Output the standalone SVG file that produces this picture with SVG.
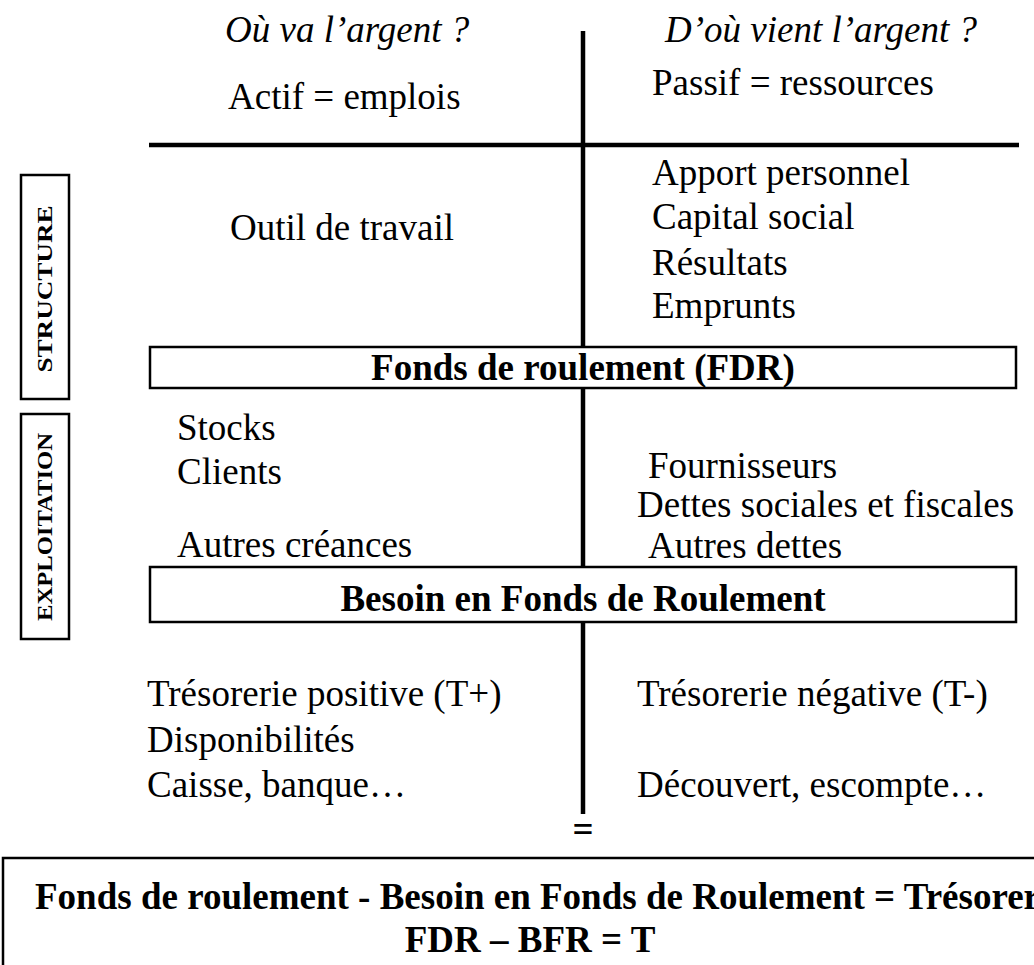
<svg xmlns="http://www.w3.org/2000/svg" width="1034" height="965" viewBox="0 0 1034 965">
<style>
.t{font-family:"Liberation Serif","Times New Roman",serif;font-size:37px;fill:#000}
.i{font-style:italic}
.b{font-weight:bold}
.c{text-anchor:middle}
.side{font-family:"Liberation Serif","Times New Roman",serif;font-size:20px;font-weight:bold;text-anchor:middle;fill:#000}
.box{fill:#fff;stroke:#000;stroke-width:2.5}
.ln{stroke:#000;stroke-width:4.5;fill:none}
</style>
<rect width="1034" height="965" fill="#fff"/>
<g id="connectors">
<line class="ln" x1="583" y1="31" x2="583" y2="347"/>
<line class="ln" x1="583" y1="388" x2="583" y2="567"/>
<line class="ln" x1="583" y1="622" x2="583" y2="814"/>
<line class="ln" x1="149" y1="145" x2="1019" y2="145"/>
</g>
<g id="header-actif">
<text class="t i" x="225" y="42">Où va l’argent ?</text>
<text class="t" x="228" y="109">Actif = emplois</text>
</g>
<g id="header-passif">
<text class="t i" x="665" y="42">D’où vient l’argent ?</text>
<text class="t" x="652" y="95">Passif = ressources</text>
</g>
<g id="structure-label">
<rect class="box" x="21" y="175" width="48" height="224"/>
<text class="side" transform="translate(52,289) rotate(-90)" textLength="167" lengthAdjust="spacingAndGlyphs">STRUCTURE</text>
</g>
<g id="exploitation-label">
<rect class="box" x="21" y="414" width="48" height="225"/>
<text class="side" transform="translate(52,527) rotate(-90)" textLength="188" lengthAdjust="spacingAndGlyphs">EXPLOITATION</text>
</g>
<g id="emplois-structure">
<text class="t" x="230" y="240">Outil de travail</text>
</g>
<g id="ressources-structure">
<text class="t" x="652" y="185">Apport personnel</text>
<text class="t" x="652" y="229">Capital social</text>
<text class="t" x="652" y="275">Résultats</text>
<text class="t" x="652" y="318">Emprunts</text>
</g>
<g id="fdr">
<rect class="box" x="150" y="347" width="866" height="41"/>
<text class="t b c" x="583" y="380">Fonds de roulement (FDR)</text>
</g>
<g id="emplois-exploitation">
<text class="t" x="177" y="440">Stocks</text>
<text class="t" x="177" y="484">Clients</text>
<text class="t" x="177" y="557">Autres créances</text>
</g>
<g id="ressources-exploitation">
<text class="t" x="648" y="478">Fournisseurs</text>
<text class="t" x="637" y="517">Dettes sociales et fiscales</text>
<text class="t" x="648" y="558">Autres dettes</text>
</g>
<g id="bfr">
<rect class="box" x="150" y="567" width="866" height="55"/>
<text class="t b c" x="583" y="611">Besoin en Fonds de Roulement</text>
</g>
<g id="tresorerie-positive">
<text class="t" x="147" y="706">Trésorerie positive (T+)</text>
<text class="t" x="147" y="752">Disponibilités</text>
<text class="t" x="147" y="797">Caisse, banque…</text>
</g>
<g id="tresorerie-negative">
<text class="t" x="637" y="706">Trésorerie négative (T-)</text>
<text class="t" x="637" y="797">Découvert, escompte…</text>
</g>
<g id="equals">
<text class="t b c" x="583" y="842">=</text>
</g>
<g id="formule">
<rect class="box" x="3" y="858" width="1060" height="140"/>
<text class="t b" x="35" y="909">Fonds de roulement - Besoin en Fonds de Roulement = Trésorerie</text>
<text class="t b c" x="530" y="952">FDR – BFR = T</text>
</g>
</svg>
